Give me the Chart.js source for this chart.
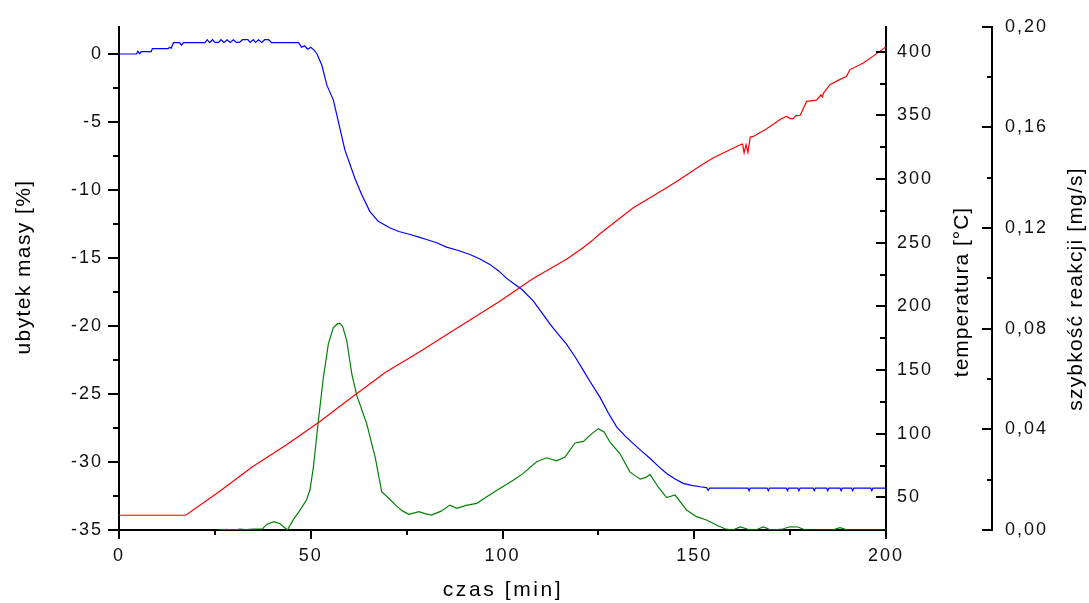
<!DOCTYPE html>
<html>
<head>
<meta charset="utf-8">
<title>TG / DTG</title>
<script src="https://cdn.jsdelivr.net/npm/chart.js@4/dist/chart.umd.min.js"></script>
<style>
  html, body { margin: 0; padding: 0; background: #fff; }
  #wrap { width: 1089px; height: 603px; position: relative; }
</style>
</head>
<body>
<div id="wrap"><canvas id="tgChart"></canvas></div>
<script>
// mass loss curve (blue), time in min
const massTime = [0, 4.6, 4.9, 5.4, 5.8, 8.4, 8.7, 12.8, 13.2, 13.6, 14.2, 15.8, 16.3, 16.8, 22.4, 23.0, 23.6, 24.4, 25.0,
  26.0, 26.6, 27.4, 28.2, 29.0, 29.8, 30.6, 31.4, 32.2, 33.6, 34.2, 35.0, 35.6, 36.4, 37.2, 38.0, 39.0, 39.8, 46.8,
  47.6, 48.4, 49.2, 50.0, 50.8, 51.6, 52.9, 54.2, 55.9, 57.6, 58.9, 61.5, 63.3, 65.4, 67.6, 70.7, 73.0, 75.9, 78.0,
  80.2, 83.0, 85.4, 88.5, 91.5, 94.0, 96.7, 99.0, 101.1, 103.0, 105.0, 108.0, 110.2, 112.4, 114.5, 116.7, 119.0,
  121.1, 123.2, 125.4, 127.6, 129.8, 132.0, 134.1, 136.3, 138.5, 140.6, 142.8, 145.0, 147.1, 149.3, 151.5, 153.2,
  153.6, 154.0, 164.0, 164.3, 164.6, 169.0, 169.3, 169.6, 174.0, 174.3, 174.6, 177.0, 177.3, 177.6, 181.0, 181.3,
  181.6, 184.5, 184.8, 185.1, 188.0, 188.3, 188.6, 191.0, 191.3, 191.6, 196.0, 196.3, 196.6, 200];
const massLoss = [0, 0, 0.2, 0.02, 0.18, 0.18, 0.39, 0.39, 0.5, 0.42, 0.83, 0.83, 0.65, 0.83, 0.83, 1.05, 0.83, 1.05, 0.85,
  0.85, 1.05, 0.85, 1.05, 0.85, 1.05, 0.85, 0.85, 1.05, 1.05, 0.85, 1.05, 0.85, 1.05, 0.85, 1.05, 1.05, 0.83, 0.83,
  0.5, 0.6, 0.35, 0.5, 0.3, 0.02, -0.83, -2.29, -3.39, -5.47, -7.05, -9.13, -10.35, -11.57, -12.3, -12.79, -13.05,
  -13.27, -13.45, -13.64, -13.9, -14.2, -14.45, -14.74, -15.05, -15.47, -15.95, -16.5, -16.9, -17.3, -18.15, -19.0,
  -19.86, -20.6, -21.33, -22.3, -23.28, -24.25, -25.23, -26.4, -27.43, -28.1, -28.65, -29.2, -29.74, -30.3, -30.84,
  -31.25, -31.57, -31.72, -31.82, -31.88, -32.08, -31.92, -31.92, -32.12, -31.92, -31.92, -32.12, -31.92, -31.92,
  -32.12, -31.92, -31.92, -32.12, -31.92, -31.92, -32.12, -31.92, -31.92, -32.12, -31.92, -31.92, -32.12, -31.92,
  -31.92, -32.12, -31.92, -31.92, -32.12, -31.92, -31.92];

// temperature curve (red)
const tempTime = [0, 17.4, 26.1, 34.8, 43.5, 52.2, 60.8, 69.5, 78.2, 88.7, 99.3, 108.0, 116.7, 121.0, 123.3, 125.4,
  134.1, 142.8, 146.3, 151.5, 155.0, 162.0, 162.6, 163.0, 163.5, 164.0, 164.6, 165.4, 168.9, 172.4, 174.1, 175.0,
  175.8, 176.5, 177.6, 179.3, 181.9, 183.0, 183.4, 183.7, 185.4, 187.5, 189.7, 190.6, 194.1, 198.4, 200];
const tempValues = [36, 36, 54.4, 74, 91, 109.2, 128.8, 148.3, 164, 184, 204, 222, 237.1, 246, 251.5, 257,
  277.5, 293.2, 299.8, 310.2, 316.7, 327, 327.5, 320.6, 327, 321, 333, 333.5, 339.6, 346.8, 349.4, 347.5,
  347.5, 349.9, 350, 361, 362, 366, 364.5, 367.6, 374.2, 377.5, 380.7, 386, 391.1, 400.3, 404];

// reaction rate curve (green)
const rateTime = [25.6, 28, 30, 31.5, 33, 35, 37.4, 38.5, 40.4, 42, 43.9, 45.5, 46.9, 48.9, 49.8, 50.7, 52, 53.3, 54.6,
  55.9, 57.0, 57.6, 58.3, 59.4, 60.7, 62, 64.6, 66.8, 68.5, 70.4, 72.4, 74, 75.6, 78.2, 80.0, 81.5, 84, 86.3, 88.1,
  90.5, 93.3, 95.9, 99.3, 102.8, 105.4, 108.9, 111.5, 114.1, 116.3, 118.9, 121.1, 123.3, 125, 126.5, 128, 130.6,
  133.2, 135.9, 137.2, 138.5, 140.6, 142.8, 145, 148, 150.6, 153.2, 156.3, 158, 160, 162, 164, 166, 168, 170, 173,
  175, 177, 179, 186, 188, 190, 200];
const rateValues = [0, 0.0003, 0, 0.0004, 0.0002, 0.0004, 0.0004, 0.0022, 0.0033, 0.0025, 0, 0.0042, 0.0072, 0.0119,
  0.016, 0.0251, 0.0436, 0.0607, 0.074, 0.0805, 0.082, 0.0821, 0.081, 0.0752, 0.062, 0.0535, 0.0422, 0.029, 0.0152,
  0.0125, 0.0095, 0.0075, 0.0062, 0.0073, 0.0064, 0.0059, 0.0075, 0.0099, 0.0086, 0.0098, 0.0106, 0.0132, 0.0165,
  0.0198, 0.0225, 0.0271, 0.0287, 0.0275, 0.029, 0.0346, 0.0352, 0.0383, 0.0403, 0.039, 0.035, 0.0304, 0.0231,
  0.0202, 0.0208, 0.022, 0.0171, 0.0129, 0.0139, 0.0079, 0.0053, 0.004, 0.0016, 0.0005, 0, 0.0012, 0.0003, 0,
  0.0012, 0, 0.0004, 0.0013, 0.0012, 0, 0, 0.0009, 0, 0];

// axis ticks
const timeTicks = [0, 50, 100, 150, 200];
const timeMinor = [25, 75, 125, 175];
const massTicks = [0, -5, -10, -15, -20, -25, -30, -35];
const massMinor = [-2.5, -7.5, -12.5, -17.5, -22.5, -27.5, -32.5];
const tempTicks = [50, 100, 150, 200, 250, 300, 350, 400];
const tempMinor = [75, 125, 175, 225, 275, 325, 375];
const rateTicks = [0, 0.04, 0.08, 0.12, 0.16, 0.20];
const rateMinor = [0.02, 0.06, 0.10, 0.14, 0.18];

const FONT = 'Liberation Sans, Arial, sans-serif';
const tickFont = { family: FONT, size: 18 };

function toPoints(xs, ys) {
    return xs.map((t, i) => ({ x: t, y: ys[i] }));
}

function fixedTicks(values) {
    return function(scale) {
        scale.ticks = values.map(v => ({ value: v }));
    };
}

function fixWidth(w) {
    return function(scale) { scale.width = w; };
}

// tick marks and axis titles drawn on top
const axisDecor = {
    id: 'axisDecor',
    beforeDraw(chart) {
        chart.ctx.letterSpacing = '2px';
    },
    afterDraw(chart) {
        const ctx = chart.ctx;
        const { x, yMass, yTemp, yRate } = chart.scales;
        ctx.save();
        ctx.strokeStyle = '#000';
        ctx.lineWidth = 2;
        ctx.beginPath();
        const vTick = (scale, v, x0, len) => {
            const py = Math.round(scale.getPixelForValue(v));
            ctx.moveTo(x0, py); ctx.lineTo(x0 - len, py);
        };
        timeTicks.forEach(v => {
            const px = Math.round(x.getPixelForValue(v));
            ctx.moveTo(px, x.top); ctx.lineTo(px, x.top + 9);
        });
        timeMinor.forEach(v => {
            const px = Math.round(x.getPixelForValue(v));
            ctx.moveTo(px, x.top); ctx.lineTo(px, x.top + 5);
        });
        massTicks.forEach(v => vTick(yMass, v, yMass.right, 11));
        massMinor.forEach(v => vTick(yMass, v, yMass.right, 6));
        tempTicks.forEach(v => vTick(yTemp, v, yTemp.left, 10));
        tempMinor.forEach(v => vTick(yTemp, v, yTemp.left, 6));
        rateTicks.forEach(v => vTick(yRate, v, yRate.left, 10));
        rateMinor.forEach(v => vTick(yRate, v, yRate.left, 5));
        ctx.stroke();

        // axis titles
        ctx.fillStyle = '#000';
        ctx.font = '21px ' + FONT;
        ctx.textAlign = 'center';
        ctx.textBaseline = 'middle';
        const title = (text, px, py, rot, ls) => {
            ctx.save();
            ctx.letterSpacing = ls + 'px';
            ctx.translate(px, py);
            ctx.rotate(rot);
            ctx.fillText(text, 0, 0);
            ctx.restore();
        };
        title('czas [min]', 503, 590, 0, 2.6);
        title('ubytek masy [%]', 24, 267, -Math.PI / 2, 1.4);
        title('temperatura [°C]', 962, 292, -Math.PI / 2, 1.0);
        title('szybkość reakcji [mg/s]', 1076, 289, -Math.PI / 2, 1.2);
        ctx.restore();
    }
};

const lineStyle = { pointRadius: 0, borderWidth: 1.2, tension: 0, fill: false };

new Chart(document.getElementById('tgChart'), {
    type: 'line',
    data: {
        datasets: [
            Object.assign({ label: 'ubytek masy', data: toPoints(massTime, massLoss), borderColor: '#0000ff', yAxisID: 'yMass' }, lineStyle),
            Object.assign({ label: 'temperatura', data: toPoints(tempTime, tempValues), borderColor: '#ff0000', yAxisID: 'yTemp' }, lineStyle),
            Object.assign({ label: 'szybkość reakcji', data: toPoints(rateTime, rateValues), borderColor: '#008000', yAxisID: 'yRate' }, lineStyle)
        ]
    },
    options: {
        responsive: true,
        maintainAspectRatio: false,
        animation: false,
        events: [],
        layout: { padding: { top: 25, left: 0, right: 0, bottom: 0 } },
        plugins: { legend: { display: false }, tooltip: { enabled: false } },
        scales: {
            x: {
                type: 'linear',
                position: 'bottom',
                min: 0,
                max: 200,
                grid: { display: false, drawTicks: false },
                border: { display: true, color: '#000', width: 2 },
                afterBuildTicks: fixedTicks(timeTicks),
                afterFit: scale => { scale.height = 73; },
                ticks: { font: tickFont, color: '#111', padding: 15, maxRotation: 0 }
            },
            yMass: {
                type: 'linear',
                position: 'left',
                min: -35,
                max: 2,
                grid: { display: false, drawTicks: false },
                border: { display: true, color: '#000', width: 2 },
                afterBuildTicks: fixedTicks(massTicks),
                afterFit: fixWidth(119),
                ticks: { font: tickFont, color: '#111', padding: 16 }
            },
            yTemp: {
                type: 'linear',
                position: 'right',
                min: 24.4,
                max: 419.6,
                grid: { display: false, drawTicks: false },
                border: { display: true, color: '#000', width: 2 },
                afterBuildTicks: fixedTicks(tempTicks),
                afterFit: fixWidth(106),
                ticks: { font: tickFont, color: '#111', padding: 11 }
            },
            yRate: {
                type: 'linear',
                position: 'right',
                min: 0,
                max: 0.2,
                grid: { display: false, drawTicks: false },
                border: { display: true, color: '#000', width: 2 },
                afterBuildTicks: fixedTicks(rateTicks),
                afterFit: fixWidth(97),
                ticks: {
                    font: tickFont, color: '#111', padding: 13,
                    callback: value => value.toFixed(2).replace('.', ',')
                }
            }
        }
    },
    plugins: [axisDecor]
});
</script>
</body>
</html>
